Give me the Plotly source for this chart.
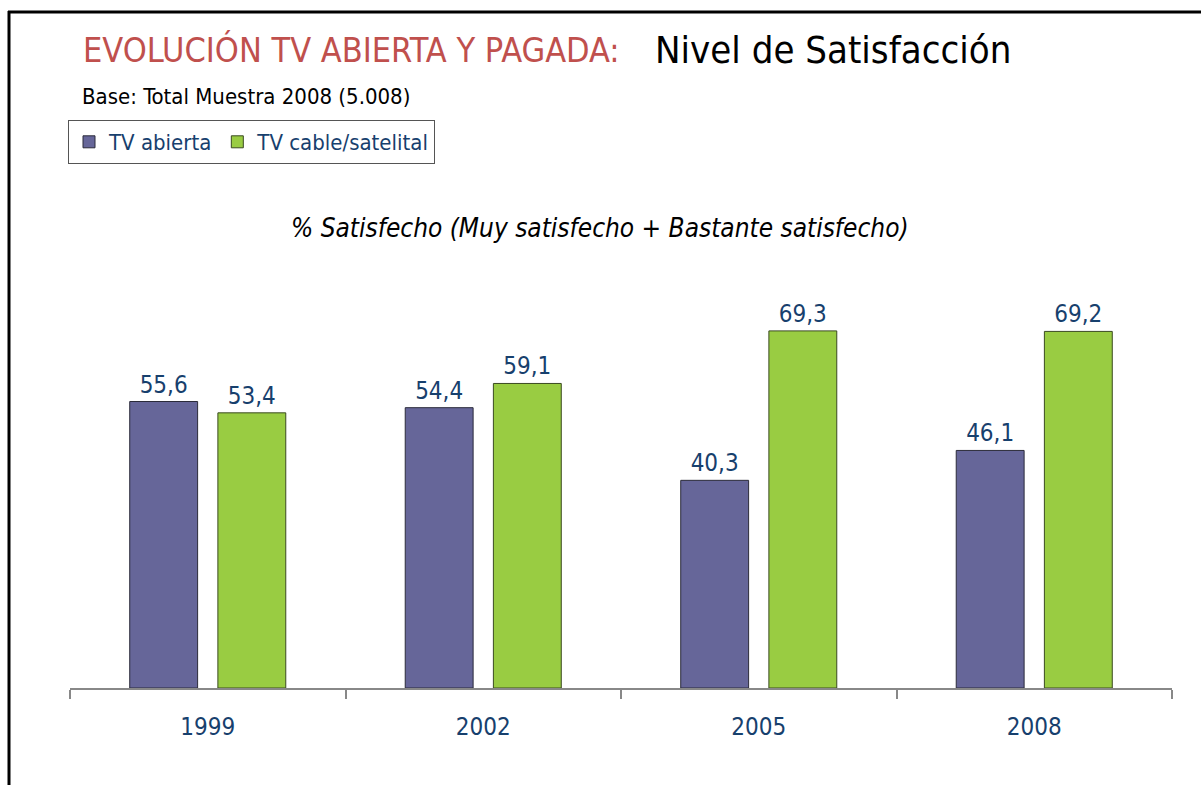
import plotly.graph_objects as go

years = ["1999", "2002", "2005", "2008"]
tv_abierta = [55.6, 54.4, 40.3, 46.1]
tv_cable = [53.4, 59.1, 69.3, 69.2]

W, H = 1201, 785
L, R, T, B = 70, 29, 250, 97
PW, PH = W - L - R, H - T - B

FONT = "Tahoma, 'DejaVu Sans Condensed', 'Noto Sans', sans-serif"
LABEL_COLOR = "#17406D"


def px(x, y):
    # pixel position -> paper coords
    return (x - L) / PW, (H - B - y) / PH


def fmt(v):
    return f"{v:.1f}".replace(".", ",")


fig = go.Figure()
fig.add_trace(go.Bar(
    x=years, y=tv_abierta, name="TV abierta",
    marker=dict(color="#666699", line=dict(color="#2b2b3a", width=1)),
    text=[fmt(v) for v in tv_abierta], textposition="outside",
    textfont=dict(size=24, color=LABEL_COLOR, family=FONT),
    cliponaxis=False,
))
fig.add_trace(go.Bar(
    x=years, y=tv_cable, name="TV cable/satelital",
    marker=dict(color="#99CC42", line=dict(color="#3a4a20", width=1)),
    text=[fmt(v) for v in tv_cable], textposition="outside",
    textfont=dict(size=24, color=LABEL_COLOR, family=FONT),
    cliponaxis=False,
))

annotations = []
x0, y0 = px(81, 50)
annotations.append(dict(x=x0, y=y0, xref="paper", yref="paper", xanchor="left", yanchor="middle",
                        text="EVOLUCIÓN TV ABIERTA Y PAGADA:", showarrow=False,
                        font=dict(size=34, color="#C0504D", family=FONT)))
x0, y0 = px(653, 50)
annotations.append(dict(x=x0, y=y0, xref="paper", yref="paper", xanchor="left", yanchor="middle",
                        text="Nivel de Satisfacción", showarrow=False,
                        font=dict(size=38, color="#000000", family=FONT)))
x0, y0 = px(80, 96)
annotations.append(dict(x=x0, y=y0, xref="paper", yref="paper", xanchor="left", yanchor="middle",
                        text="Base: Total Muestra 2008 (5.008)", showarrow=False,
                        font=dict(size=22, color="#000000", family=FONT)))
x0, y0 = px(600, 228)
annotations.append(dict(x=x0, y=y0, xref="paper", yref="paper", xanchor="center", yanchor="middle",
                        text="<i>% Satisfecho (Muy satisfecho + Bastante satisfecho)</i>", showarrow=False,
                        font=dict(size=26, color="#000000", family=FONT)))

lx, ly = px(68, 120)
fig.update_layout(
    width=W, height=H,
    margin=dict(l=L, r=R, t=T, b=B, autoexpand=False),
    plot_bgcolor="white", paper_bgcolor="white",
    barmode="group", bargap=0.36, bargroupgap=0.23,
    font=dict(family=FONT),
    showlegend=True,
    legend=dict(orientation="h", x=lx, y=ly, xanchor="left", yanchor="top",
                bordercolor="#555555", borderwidth=1,
                font=dict(size=22, color=LABEL_COLOR, family=FONT),
                itemwidth=30, tracegroupgap=0),
    annotations=annotations,
    shapes=[
        dict(type="line", xref="paper", yref="paper",
             x0=px(8, 0)[0], x1=px(1201, 0)[0], y0=px(0, 12)[1], y1=px(0, 12)[1],
             line=dict(color="black", width=3)),
        dict(type="line", xref="paper", yref="paper",
             x0=px(9, 0)[0], x1=px(9, 0)[0], y0=px(0, 11)[1], y1=px(0, 785)[1],
             line=dict(color="black", width=3)),
    ],
)
fig.update_xaxes(
    showline=True, linecolor="#888888", linewidth=1.5,
    ticks="outside", tickson="boundaries", ticklen=9, tickcolor="#888888", tickwidth=1.5,
    tickfont=dict(size=24, color=LABEL_COLOR, family=FONT), ticklabelstandoff=16,
    showgrid=False, range=[-0.5, 3.5],
)
fig.update_yaxes(visible=False, range=[0, 85], showgrid=False)

fig.write_html("out.html", config={"displayModeBar": False},
               post_script="document.body.style.margin='0';")
